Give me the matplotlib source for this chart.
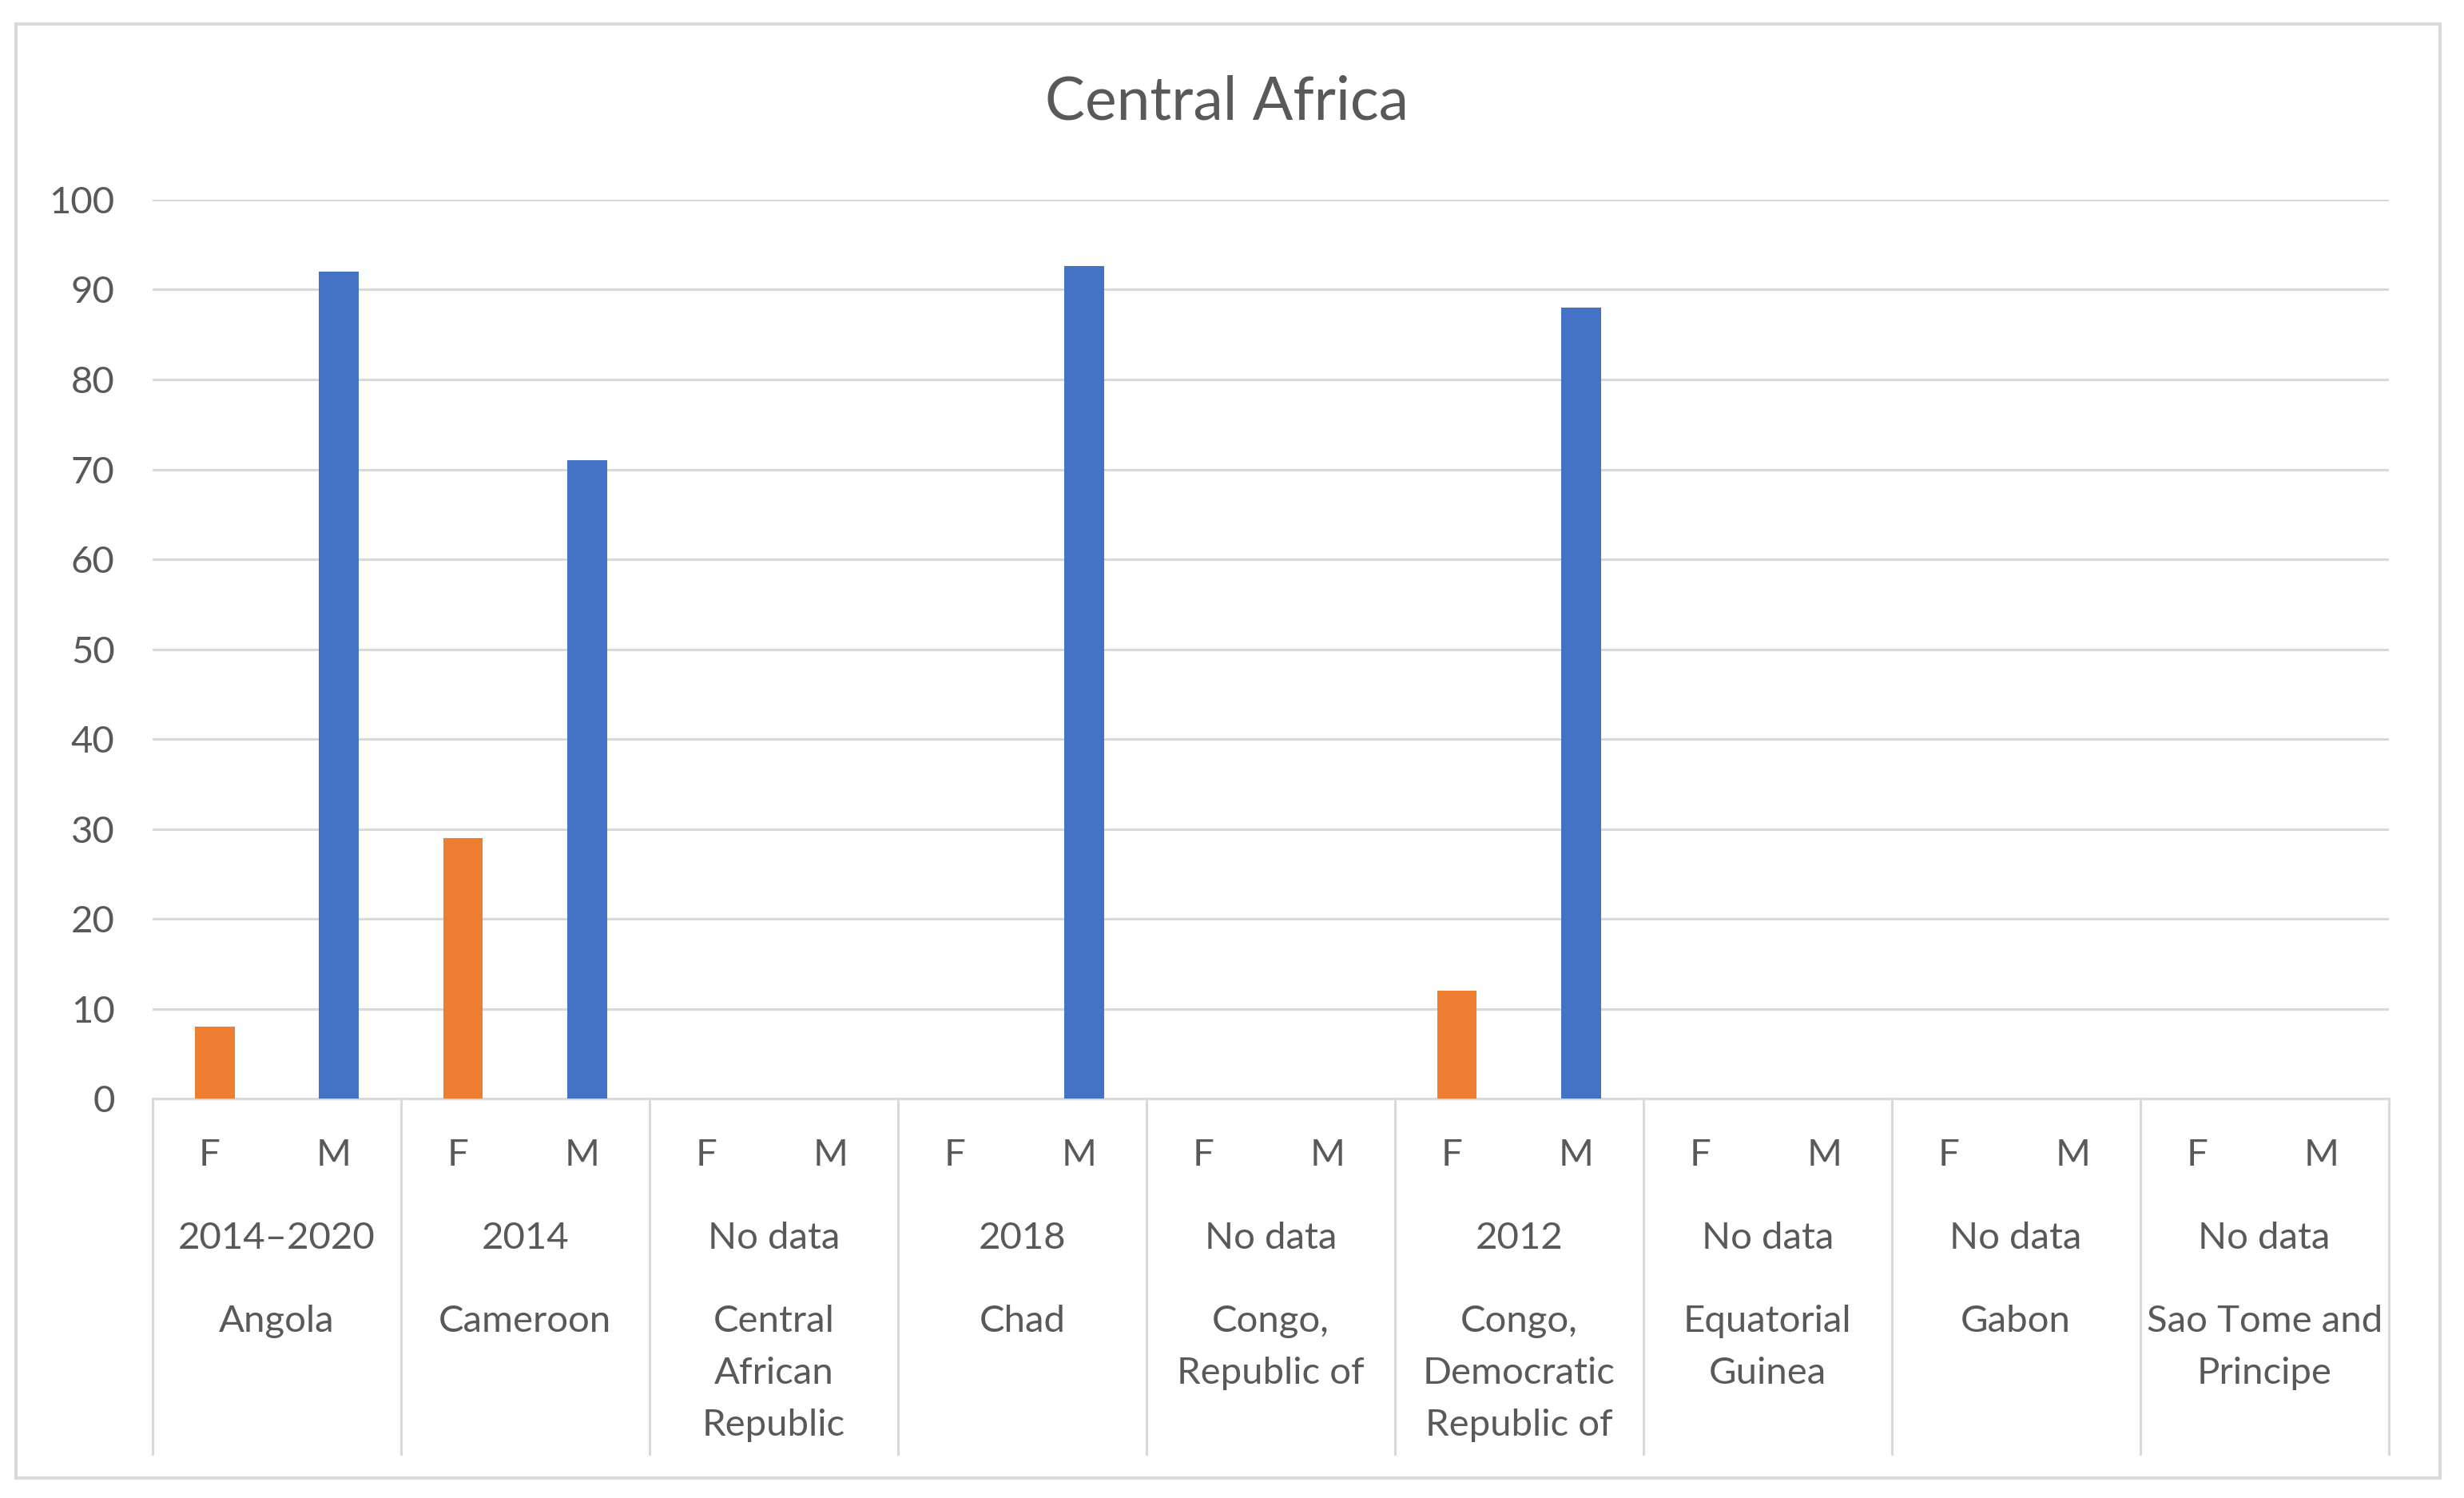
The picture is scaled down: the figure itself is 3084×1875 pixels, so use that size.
import matplotlib.pyplot as plt
from matplotlib.patches import Rectangle
from matplotlib.lines import Line2D

# ====== DATOS ======
paises = ['Angola', 'Cameroon', 'Central\nAfrican\nRepublic', 'Chad',
          'Congo,\nRepublic of', 'Congo,\nDemocratic\nRepublic of',
          'Equatorial\nGuinea', 'Gabon', 'Sao Tome and\nPrincipe']
anios = ['2014–2020', '2014', 'No data', '2018', 'No data', '2012',
         'No data', 'No data', 'No data']
sexos = ['F', 'M']
valores_f = [8, 29, 0, 0, 0, 12, 0, 0, 0]
valores_m = [92, 71, 0, 92.6, 0, 88, 0, 0, 0]
ticks_y = [0, 10, 20, 30, 40, 50, 60, 70, 80, 90, 100]

# ====== ESTILO ======
COLOR_F = '#ED7D31'
COLOR_M = '#4472C4'
GRIS = '#D9D9D9'
TEXTO = '#595959'
TAM = 17
plt.rcParams['font.family'] = ['Lato', 'DejaVu Sans']

fig = plt.figure(figsize=(15.42, 9.375), dpi=200)
ax = fig.add_axes([0.0619, 0.2665, 0.9075, 0.6002])

# marco exterior del grafico
fig.patches.append(Rectangle((0.0064, 0.0136), 0.984, 0.9706,
                             transform=fig.transFigure, fill=False,
                             edgecolor=GRIS, linewidth=1.5))

n = len(paises)
ancho = 0.16
for i in range(n):
    if valores_f[i] > 0:
        ax.bar(i + 0.25, valores_f[i], width=ancho, color=COLOR_F, zorder=3)
    if valores_m[i] > 0:
        ax.bar(i + 0.75, valores_m[i], width=ancho, color=COLOR_M, zorder=3)

ax.set_xlim(0, n)
ax.set_ylim(0, 100)
ax.set_yticks(ticks_y)
ax.set_yticklabels([str(t) for t in ticks_y], fontsize=TAM, color=TEXTO)
ax.tick_params(axis='y', length=0, pad=17)
ax.set_xticks([])
ax.grid(axis='y', color=GRIS, linewidth=1.1, zorder=0)
for lado in ['top', 'right', 'left']:
    ax.spines[lado].set_visible(False)
ax.spines['bottom'].set_color(GRIS)
ax.spines['bottom'].set_linewidth(1.1)

# etiquetas de categoria (F/M, anio, pais)
for i in range(n + 1):
    ax.add_line(Line2D([i, i], [0, -0.395], transform=ax.get_xaxis_transform(),
                       color=GRIS, linewidth=1.1, clip_on=False))

for i in range(n):
    for k, s in enumerate(sexos):
        ax.text(i + 0.23 + 0.5 * k, -0.063, s, transform=ax.get_xaxis_transform(),
                ha='center', va='center', fontsize=TAM, color=TEXTO)
    ax.text(i + 0.5, -0.1556, anios[i], transform=ax.get_xaxis_transform(),
            ha='center', va='center', fontsize=TAM, color=TEXTO)
    for j, linea in enumerate(paises[i].split('\n')):
        ax.text(i + 0.5, -0.248 - 0.0578 * j, linea,
                transform=ax.get_xaxis_transform(),
                ha='center', va='center', fontsize=TAM, color=TEXTO)

fig.text(0.498, 0.932, 'Central Africa', ha='center', va='center',
         fontsize=27, color=TEXTO)

plt.savefig('out.png', dpi=200)
plt.close()
